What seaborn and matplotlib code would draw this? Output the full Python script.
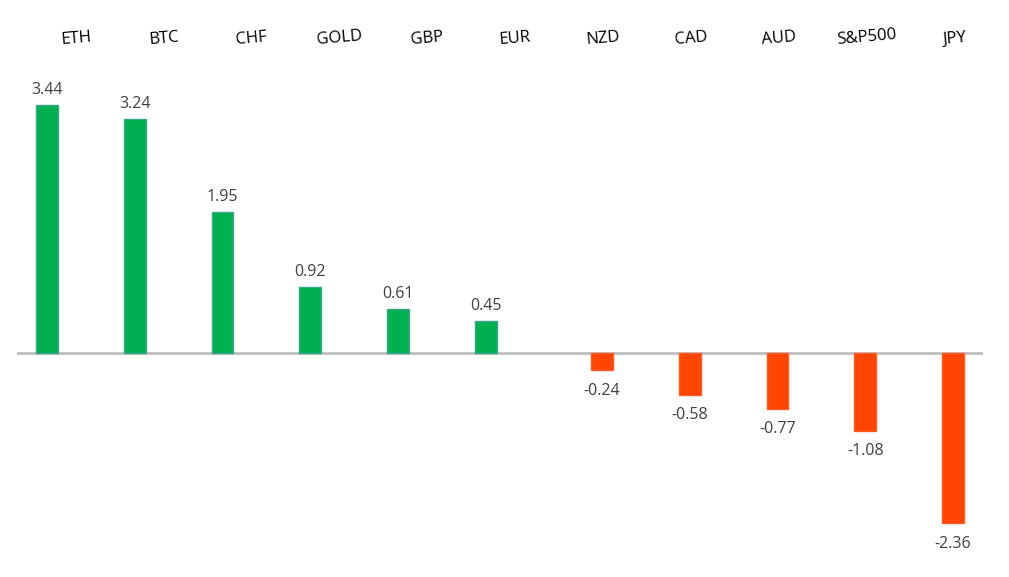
import matplotlib
matplotlib.use("Agg")
import matplotlib.pyplot as plt
import matplotlib.transforms as mtransforms
import seaborn as sns
import pandas as pd

categories = ["ETH", "BTC", "CHF", "GOLD", "GBP", "EUR", "NZD", "CAD", "AUD", "S&P500", "JPY"]
values = [3.44, 3.24, 1.95, 0.92, 0.61, 0.45, -0.24, -0.58, -0.77, -1.08, -2.36]

df = pd.DataFrame({
    "cat": categories,
    "val": values,
    "sign": ["pos" if v >= 0 else "neg" for v in values],
})

sns.set_theme(style="white")
plt.rcParams["font.family"] = ["Open Sans", "DejaVu Sans"]

W, H = 1009, 577
fig = plt.figure(figsize=(W / 100, H / 100), dpi=100)
ax_top, ax_bot = 60, 560
ax = fig.add_axes([17 / W, (H - ax_bot) / H, 966 / W, (ax_bot - ax_top) / H])

sns.barplot(data=df, x="cat", y="val", hue="sign", hue_order=["pos", "neg"],
            palette={"pos": "#00B050", "neg": "#FF4500"}, order=categories,
            width=0.64, gap=0.22, dodge=True, legend=False, ax=ax,
            saturation=1, edgecolor="none")

for p in ax.patches:
    fc = p.get_facecolor()
    if fc[0] < 0.5:
        p.set_edgecolor("#3AA58A")
    else:
        p.set_edgecolor("#FF5A20")
    p.set_linewidth(1.0)

scale = 72.1
ax.set_ylim(-(ax_bot - 353) / scale, (353 - ax_top) / scale)
ax.set_xlim(-0.5, len(categories) - 0.5)

for cont, pad in zip(ax.containers, [5, 9]):
    labs = []
    for bar in cont:
        h = bar.get_height()
        labs.append(f"{h:.2f}" if h == h and h != 0 else "")
    ax.bar_label(cont, labels=labs, padding=pad, fontsize=11.5, color="#404040",
                 family=["Open Sans", "DejaVu Sans"])

ax.axhline(0, color="#BFBFBF", lw=2, zorder=0.5)

ax.set_xlabel("")
ax.set_ylabel("")
ax.set_yticks([])
ax.xaxis.tick_top()
ax.tick_params(axis="x", length=0, pad=9, labelsize=12, labelcolor="black")
ax.set_xticks(range(len(categories)))
ax.set_xticklabels(categories, rotation=5)
offset = mtransforms.ScaledTranslation(15 / 100, 0, fig.dpi_scale_trans)
for t in ax.get_xticklabels():
    t.set_transform(t.get_transform() + offset)

for s in ax.spines.values():
    s.set_visible(False)

fig.savefig("out.png", dpi=100, facecolor="white")
